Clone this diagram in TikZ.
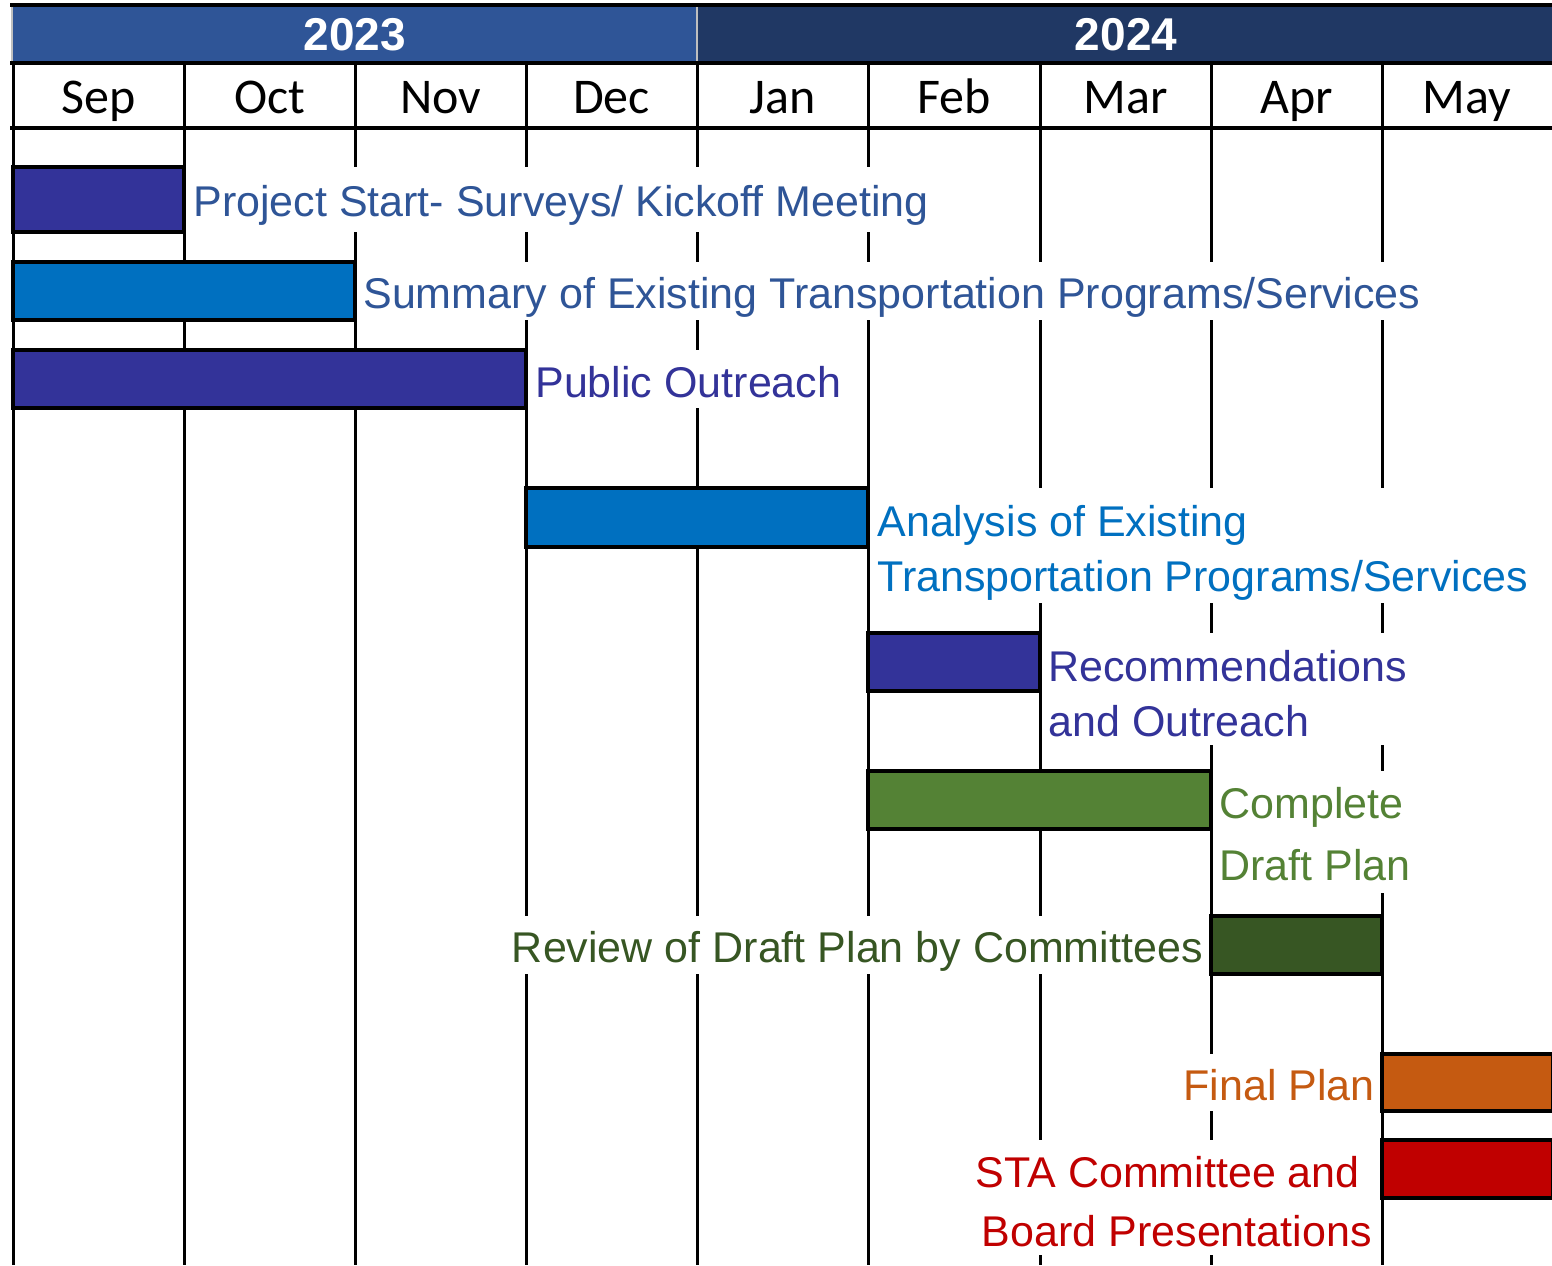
\documentclass[tikz,border=0pt]{standalone}
\usepackage{fontspec}
\setmainfont{Liberation Sans}
\newfontfamily\monthfont{Carlito}
\definecolor{yrA}{HTML}{2F5597}
\definecolor{yrB}{HTML}{203864}
\definecolor{cIndigo}{HTML}{333399}
\definecolor{cBlue}{HTML}{0070C0}
\definecolor{cSteel}{HTML}{2F5597}
\definecolor{cGreen}{HTML}{548235}
\definecolor{cDkGreen}{HTML}{375623}
\definecolor{cOrange}{HTML}{C55A11}
\definecolor{cRed}{HTML}{C00000}
\newcommand\lefttwo[3]{\vtop{\baselineskip=#1\halign{##\hfil\cr #2\cr #3\cr}}}
\newcommand\righttwo[3]{\vtop{\baselineskip=#1\halign{\hfil##\cr #2\cr #3\cr}}}
\tikzset{
  gridline/.style={line width=1.5pt, black},
  headline/.style={line width=2pt, black},
  barbox/.style={draw=black, line width=2pt},
  yeartext/.style={text=white, font=\fontsize{23pt}{27pt}\selectfont\bfseries, inner sep=0pt},
  monthtext/.style={font=\monthfont\fontsize{25pt}{30pt}\selectfont, inner sep=0pt, anchor=base},
  lbl/.style={fill=white, inner xsep=2pt, inner ysep=0pt, font=\fontsize{21.5pt}{27.5pt}\selectfont},
}
\begin{document}
\begin{tikzpicture}[x=0.5pt,y=-0.5pt]
\useasboundingbox (0,0) rectangle (1552,1265);
% header bands
\fill[yrA] (13,6) rectangle (697,63);
\fill[yrB] (697,6) rectangle (1552,63);
\draw[black!25, line width=1pt] (697,6) -- (697,63);
\draw[black!25, line width=1pt] (12,6) -- (12,63);
% grid
\foreach \gx in {13,184,355,526,697,868,1040,1211,1382}
  \draw[gridline] (\gx,63) -- (\gx,1265);
\draw[headline] (10,5) -- (1552,5);
\draw[headline] (10,63) -- (1552,63);
\draw[headline] (10,128) -- (1552,128);
% year labels
\node[yeartext] (y2023) at (355,35) {2023};
\node[yeartext] (y2024) at (1126,35) {2024};
% month labels
\node[monthtext] (mSep) at (98.5,113) {Sep};
\node[monthtext] (mOct) at (269.5,113) {Oct};
\node[monthtext] (mNov) at (440.5,113) {Nov};
\node[monthtext] (mDec) at (611.5,113) {Dec};
\node[monthtext] (mJan) at (782.5,113) {Jan};
\node[monthtext] (mFeb) at (954,113) {Feb};
\node[monthtext] (mMar) at (1125.5,113) {Mar};
\node[monthtext] (mApr) at (1296.5,113) {Apr};
\node[monthtext] (mMay) at (1467,113) {May};
% bars
\filldraw[barbox, fill=cIndigo] (13,167) rectangle (184,232);
\filldraw[barbox, fill=cBlue] (13,262) rectangle (355,320);
\filldraw[barbox, fill=cIndigo] (13,350) rectangle (526,408);
\filldraw[barbox, fill=cBlue] (526,488) rectangle (868,547);
\filldraw[barbox, fill=cIndigo] (868,633) rectangle (1040,691);
\filldraw[barbox, fill=cGreen] (868,771) rectangle (1211,829);
\filldraw[barbox, fill=cDkGreen] (1211,916) rectangle (1382,974);
\filldraw[barbox, fill=cOrange] (1382,1054) rectangle (1553,1111);
\filldraw[barbox, fill=cRed] (1382,1140) rectangle (1553,1198);
% labels
\node[lbl, text=cSteel, anchor=base west, text height=24.5pt, text depth=8pt] (l1) at (189,216) {Project Start- Surveys/ Kickoff Meeting};
\node[lbl, text=cSteel, anchor=base west, text height=23pt, text depth=6pt] (l2) at (359,308) {Summary of Existing Transportation Programs/Services};
\node[lbl, text=cIndigo, anchor=base west, text height=23.5pt, text depth=5.5pt] (l3) at (531,397) {Public Outreach};
\node[lbl, text=cBlue, anchor=base west, text height=24pt, text depth=33.5pt] (l4) at (873,536) {\lefttwo{27.5pt}{Analysis of Existing}{Transportation Programs/Services}};
\node[lbl, text=cIndigo, anchor=base west, text height=24pt, text depth=32pt] (l5) at (1044,681) {\lefttwo{27.5pt}{Recommendations}{and Outreach}};
\node[lbl, text=cGreen, anchor=base west, text height=23.5pt, text depth=37.5pt] (l6) at (1215,818) {\lefttwo{31pt}{Complete}{Draft Plan}};
\node[lbl, text=cDkGreen, anchor=base east, text height=23pt, text depth=6pt] (l7) at (1207,962) {Review of Draft Plan by Committees};
\node[lbl, text=cOrange, anchor=base east, text height=23pt, text depth=5.5pt] (l8) at (1379,1100) {Final Plan};
\node[lbl, text=cRed, anchor=base east, text height=23.5pt, text depth=34pt] (l9) at (1376,1187) {\righttwo{29.5pt}{STA Committee and\ }{Board Presentations}};
\end{tikzpicture}
\end{document}
